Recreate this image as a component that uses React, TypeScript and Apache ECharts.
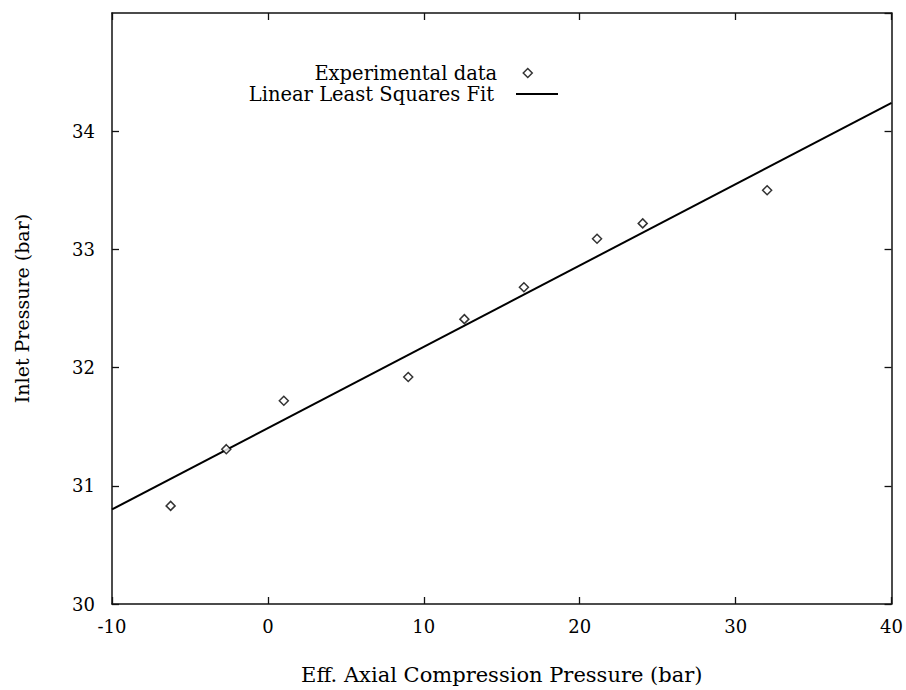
import React, { useEffect, useRef } from "react";
import * as echarts from "echarts";

// Measured samples: effective axial compression pressure vs. inlet pressure (bar)
const axialPressure = [-6.24, -2.67, 1.02, 9.0, 12.6, 16.42, 21.11, 24.04, 32.02];
const inletPressure = [30.83, 31.31, 31.72, 31.92, 32.41, 32.68, 33.09, 33.22, 33.5];

// Least squares fit line, given by its end points across the x range
const fitX = [-10, 40];
const fitY = [30.8, 34.24];

const xTicks = { min: -10, max: 40, interval: 10 };
const yTicks = { min: 30, max: 35, interval: 1 };

const FONT = "DejaVu Serif";
const INK = "#111";

export default function App() {
  const ref = useRef<HTMLDivElement>(null);

  useEffect(() => {
    if (!ref.current) return;
    const chart = echarts.init(ref.current, undefined, { renderer: "svg" });

    const scatterData = axialPressure.map((x, i) => [x, inletPressure[i]]);
    const fitData = fitX.map((x, i) => [x, fitY[i]]);

    // Mirrored frame axes (top / right): ticks only, no labels
    const frameAxis = {
      axisLine: { show: true, onZero: false, lineStyle: { color: INK, width: 1.5 } },
      axisTick: { show: true, inside: true, length: 7, lineStyle: { color: INK, width: 1.3 } },
      axisLabel: { show: false },
      splitLine: { show: false },
    };

    chart.setOption({
      animation: false,
      backgroundColor: "#fff",
      textStyle: { fontFamily: FONT, color: "#000" },
      grid: { left: 112, right: 13, top: 13, bottom: 83 },
      legend: [
        {
          data: [{ name: "Experimental data", icon: "diamond" }],
          align: "right",
          right: 373,
          top: 63,
          padding: 0,
          itemWidth: 9,
          itemHeight: 9,
          itemStyle: { color: "#fff", borderColor: "#000", borderWidth: 1.5 },
          textStyle: {
            fontFamily: FONT,
            fontSize: 19.5,
            color: "#000",
            lineHeight: 19,
            padding: [0, 21, 0, 0],
          },
        },
        {
          data: [{ name: "Linear Least Squares Fit", icon: "rect" }],
          align: "right",
          right: 348,
          top: 84,
          padding: 0,
          itemWidth: 42,
          itemHeight: 2,
          itemStyle: { color: "#000" },
          textStyle: {
            fontFamily: FONT,
            fontSize: 19.5,
            color: "#000",
            lineHeight: 19,
            padding: [0, 17, 0, 0],
          },
        },
      ],
      xAxis: [
        {
          type: "value",
          position: "bottom",
          min: xTicks.min,
          max: xTicks.max,
          interval: xTicks.interval,
          name: "Eff. Axial Compression Pressure (bar)",
          nameLocation: "middle",
          nameGap: 60,
          nameTextStyle: { fontFamily: FONT, fontSize: 21, color: "#000" },
          axisLine: { show: true, onZero: false, lineStyle: { color: INK, width: 1.5 } },
          axisTick: { show: true, inside: true, length: 7, lineStyle: { color: INK, width: 1.3 } },
          axisLabel: { fontFamily: FONT, fontSize: 18, color: "#000", margin: 13 },
          splitLine: { show: false },
        },
        {
          type: "value",
          position: "top",
          min: xTicks.min,
          max: xTicks.max,
          interval: xTicks.interval,
          ...frameAxis,
        },
      ],
      yAxis: [
        {
          type: "value",
          position: "left",
          min: yTicks.min,
          max: yTicks.max,
          interval: yTicks.interval,
          name: "Inlet Pressure (bar)",
          nameLocation: "middle",
          nameGap: 81,
          nameTextStyle: { fontFamily: FONT, fontSize: 19, color: "#000" },
          axisLine: { show: true, onZero: false, lineStyle: { color: INK, width: 1.5 } },
          axisTick: { show: true, inside: true, length: 7, lineStyle: { color: INK, width: 1.3 } },
          axisLabel: { fontFamily: FONT, fontSize: 18, color: "#000", margin: 17, showMaxLabel: false },
          splitLine: { show: false },
        },
        {
          type: "value",
          position: "right",
          min: yTicks.min,
          max: yTicks.max,
          interval: yTicks.interval,
          ...frameAxis,
        },
      ],
      series: [
        {
          name: "Experimental data",
          type: "scatter",
          data: scatterData,
          symbol: "diamond",
          symbolSize: 9,
          itemStyle: { color: "#fff", borderColor: "#000", borderWidth: 1.5 },
          z: 3,
        },
        {
          name: "Linear Least Squares Fit",
          type: "line",
          data: fitData,
          symbol: "none",
          lineStyle: { color: "#000", width: 2 },
          itemStyle: { color: "#000" },
          z: 2,
        },
      ],
    });

    return () => chart.dispose();
  }, []);

  return (
    <div
      ref={ref}
      style={{ position: "fixed", left: 0, top: 0, width: 906, height: 690 }}
    />
  );
}
